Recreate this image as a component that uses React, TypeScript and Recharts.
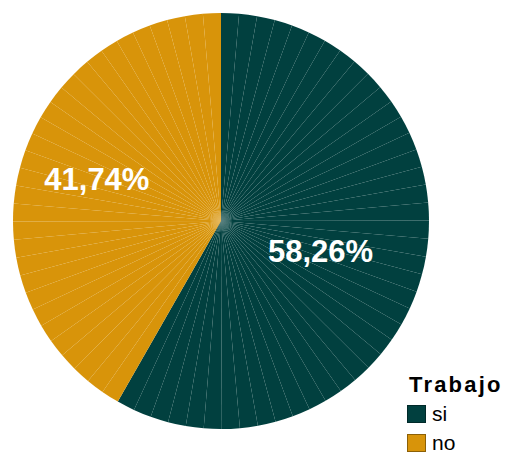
import React from "react";
import { PieChart, Pie, Cell } from "recharts";

// ---- data ----
const categories = ["si", "no"];
const shares = [58.26, 41.74];
const sliceCounts = [42, 30];
const shareLabels = ["58,26%", "41,74%"];
const legendTitle = "Trabajo";

// ---- styles ----
const colors = ["#01403F", "#D8940A"];
const labelPlacement = [
  { r: 0.5, dAngle: -2 },
  { r: 0.63, dAngle: -3.8 },
];

const slices = categories.flatMap((cat, i) =>
  Array.from({ length: sliceCounts[i] }, (_, k) => ({
    name: `${cat}-${k + 1}`,
    group: i,
    value: shares[i] / sliceCounts[i],
  }))
);
const groups = categories.map((cat, i) => ({ name: cat, value: shares[i], label: shareLabels[i] }));

const RAD = Math.PI / 180;
const pt = (cx: number, cy: number, r: number, a: number) => [
  cx + r * Math.cos(-a * RAD),
  cy + r * Math.sin(-a * RAD),
];

const TriangleFill = (props: any) => {
  const { cx, cy, outerRadius, startAngle, endAngle, fill } = props;
  const [x1, y1] = pt(cx, cy, outerRadius, startAngle);
  const [x2, y2] = pt(cx, cy, outerRadius, endAngle);
  return (
    <path
      d={`M${cx},${cy}L${x1},${y1}L${x2},${y2}Z`}
      fill={fill}
      stroke={fill}
      strokeWidth={0.5}
      strokeLinejoin="round"
    />
  );
};

const BoundaryLine = (props: any) => {
  const { cx, cy, outerRadius, startAngle } = props;
  const [x1, y1] = pt(cx, cy, outerRadius - 0.5, startAngle);
  return (
    <line x1={cx} y1={cy} x2={x1} y2={y1} stroke="rgba(255,255,255,0.32)" strokeWidth={0.6} />
  );
};

const NoShape = () => <g />;

const renderLabel = (props: any) => {
  const { cx, cy, midAngle, outerRadius, index } = props;
  const pl = labelPlacement[index];
  const [x, y] = pt(cx, cy, outerRadius * pl.r, midAngle + pl.dAngle);
  return (
    <text
      x={x}
      y={y}
      fill="#ffffff"
      textAnchor="middle"
      dominantBaseline="central"
      fontFamily="'Liberation Sans', Arial, sans-serif"
      fontWeight="bold"
      fontSize={31}
    >
      {groups[index].label}
    </text>
  );
};

export default function App() {
  return (
    <div style={{ position: "absolute", left: 0, top: 0, width: 507, height: 452 }}>
      <PieChart width={507} height={452} margin={{ top: 0, right: 0, bottom: 0, left: 0 }}>
        <Pie
          data={slices}
          dataKey="value"
          cx={221}
          cy={221}
          outerRadius={208}
          startAngle={90}
          endAngle={-270}
          stroke="none"
          isAnimationActive={false}
          inactiveShape={TriangleFill}
          activeShape={TriangleFill}
        >
          {slices.map((s, i) => (
            <Cell key={i} fill={colors[s.group]} />
          ))}
        </Pie>
        <Pie
          data={slices}
          dataKey="value"
          cx={221}
          cy={221}
          outerRadius={208}
          startAngle={90}
          endAngle={-270}
          stroke="none"
          fill="none"
          isAnimationActive={false}
          inactiveShape={BoundaryLine}
          activeShape={BoundaryLine}
        />
        <Pie
          data={groups}
          dataKey="value"
          cx={221}
          cy={221}
          outerRadius={208}
          startAngle={90}
          endAngle={-270}
          stroke="none"
          fill="none"
          isAnimationActive={false}
          inactiveShape={NoShape}
          activeShape={NoShape}
          labelLine={false}
          label={renderLabel}
        />
      </PieChart>
      <div
        style={{
          position: "absolute",
          left: 407,
          top: 372,
          fontFamily: "'Liberation Sans', Arial, sans-serif",
          color: "#000",
        }}
      >
        <div style={{ fontWeight: "bold", fontSize: 22, letterSpacing: 2.2, lineHeight: "26px", marginLeft: 2 }}>
          {legendTitle}
        </div>
        {categories.map((cat, i) => (
          <div key={cat} style={{ display: "flex", alignItems: "center", height: 29, marginTop: i === 0 ? 1 : 0 }}>
            <div
              style={{
                width: 19,
                height: 18,
                background: colors[i],
                boxSizing: "border-box",
                border: "1px solid rgba(0,0,0,0.35)",
              }}
            />
            <span style={{ fontSize: 21, marginLeft: 6, lineHeight: "20px" }}>{cat}</span>
          </div>
        ))}
      </div>
    </div>
  );
}
